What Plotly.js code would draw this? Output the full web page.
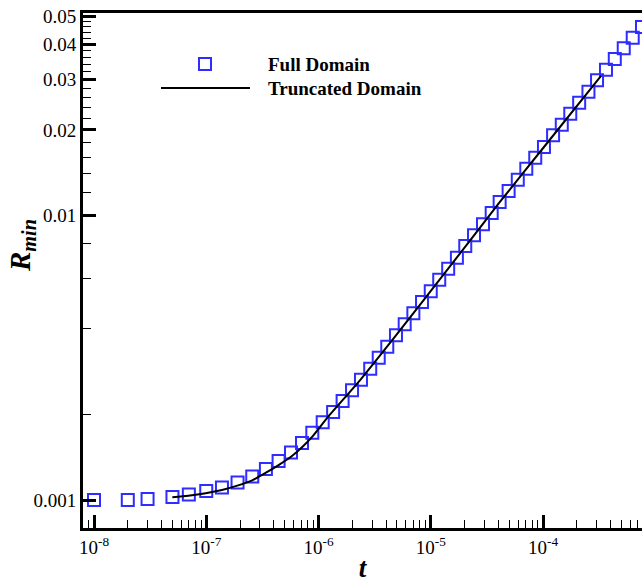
<!DOCTYPE html>
<html>
<head>
<meta charset="utf-8">
<script src="https://cdn.plot.ly/plotly-3.0.1.min.js"></script>
<style>html,body{margin:0;padding:0;background:#fff;}#chart{width:642px;height:583px;}</style>
</head>
<body>
<div id="chart"></div>
<script>
// Full Domain (squares)
const tFull = [1.0e-8, 2.0e-8, 3.0e-8, 5.0e-8, 7.0e-8, 1.0e-7, 1.38e-7, 1.90e-7, 2.57e-7, 3.40e-7,
  4.41e-7, 5.69e-7, 7.13e-7, 8.81e-7, 1.09e-6, 1.35e-6, 1.64e-6, 1.99e-6, 2.39e-6, 2.89e-6,
  3.44e-6, 4.10e-6, 4.90e-6, 5.86e-6, 7.00e-6, 8.36e-6, 1.00e-5, 1.19e-5, 1.43e-5, 1.71e-5,
  2.03e-5, 2.43e-5, 2.92e-5, 3.49e-5, 4.11e-5, 4.94e-5, 5.96e-5, 7.10e-5, 8.53e-5, 1.02e-4,
  1.23e-4, 1.47e-4, 1.75e-4, 2.10e-4, 2.54e-4, 3.03e-4, 3.64e-4, 4.36e-4, 5.24e-4, 6.30e-4, 7.62e-4];
const RFull = [1.000e-3, 1.000e-3, 1.008e-3, 1.024e-3, 1.045e-3, 1.076e-3, 1.106e-3, 1.152e-3, 1.209e-3, 1.285e-3,
  1.371e-3, 1.469e-3, 1.586e-3, 1.725e-3, 1.876e-3, 2.039e-3, 2.228e-3, 2.430e-3, 2.647e-3, 2.894e-3,
  3.164e-3, 3.458e-3, 3.793e-3, 4.146e-3, 4.532e-3, 4.966e-3, 5.415e-3, 5.947e-3, 6.502e-3, 7.107e-3,
  7.813e-3, 8.518e-3, 9.314e-3, 1.020e-2, 1.116e-2, 1.220e-2, 1.336e-2, 1.460e-2, 1.597e-2, 1.741e-2,
  1.914e-2, 2.086e-2, 2.280e-2, 2.492e-2, 2.724e-2, 2.987e-2, 3.254e-2, 3.549e-2, 3.870e-2, 4.217e-2, 4.598e-2];

// Truncated Domain (line)
const tTrunc = [4.99e-8, 6.92e-8, 9.89e-8, 1.38e-7, 1.89e-7, 2.57e-7, 3.40e-7, 4.41e-7, 5.69e-7, 7.13e-7,
  8.81e-7, 1.22e-6, 2.39e-6, 4.90e-6, 1.43e-5, 4.13e-5, 1.02e-4, 3.29e-4];
const RTrunc = [1.022e-3, 1.035e-3, 1.056e-3, 1.084e-3, 1.123e-3, 1.173e-3, 1.247e-3, 1.327e-3, 1.419e-3, 1.532e-3,
  1.670e-3, 1.963e-3, 2.662e-3, 3.79e-3, 6.50e-3, 1.116e-2, 1.741e-2, 3.093e-2];

// Axis ticks
const xMajorVals = [1e-8, 1e-7, 1e-6, 1e-5, 1e-4];
const xMajorText = ['10<sup>-8</sup>', '10<sup>-7</sup>', '10<sup>-6</sup>', '10<sup>-5</sup>', '10<sup>-4</sup>'];
const xMinorVals = [9e-9,
  2e-8, 3e-8, 4e-8, 5e-8, 6e-8, 7e-8, 8e-8, 9e-8,
  2e-7, 3e-7, 4e-7, 5e-7, 6e-7, 7e-7, 8e-7, 9e-7,
  2e-6, 3e-6, 4e-6, 5e-6, 6e-6, 7e-6, 8e-6, 9e-6,
  2e-5, 3e-5, 4e-5, 5e-5, 6e-5, 7e-5, 8e-5, 9e-5,
  2e-4, 3e-4, 4e-4, 5e-4, 6e-4, 7e-4];
const yMajorVals = [0.001, 0.01, 0.02, 0.03, 0.04, 0.05];
const yMajorText = ['0.001', '0.01', '0.02', '0.03', '0.04', '0.05'];
const yMinorVals = [0.002, 0.004, 0.006, 0.008, 0.012, 0.014, 0.016, 0.018,
  0.022, 0.024, 0.026, 0.028, 0.032, 0.034, 0.036, 0.038, 0.042, 0.044, 0.046, 0.048];

const seriesNames = ['Full Domain', 'Truncated Domain'];

const FONT = 'Liberation Serif, Times New Roman, serif';
const BLUE = 'rgb(45,45,255)';

const traces = [
  {
    x: tFull, y: RFull, type: 'scatter', mode: 'markers', name: seriesNames[0],
    marker: {symbol: 'square-open', size: 12, color: BLUE, line: {width: 2, color: BLUE}},
    showlegend: false, cliponaxis: true
  },
  {
    x: tTrunc, y: RTrunc, type: 'scatter', mode: 'lines', name: seriesNames[1],
    line: {color: '#000', width: 2, shape: 'spline', smoothing: 0.6},
    showlegend: false
  }
];

const L = 83, R = 642, T = 13, B = 528;
const px = v => (v - L) / (R - L);
const py = v => (B - v) / (B - T);

const layout = {
  width: 642, height: 583,
  margin: {l: L, r: 642 - R, t: T, b: 583 - B},
  paper_bgcolor: '#fff', plot_bgcolor: '#fff',
  font: {family: FONT, color: '#000', size: 19},
  showlegend: false,
  xaxis: {
    type: 'log', range: [-8.098, -3.118],
    showgrid: false, zeroline: false,
    showline: true, linecolor: '#000', linewidth: 3, mirror: true,
    ticks: 'inside', ticklen: 13, tickwidth: 3, tickcolor: '#000',
    tickmode: 'array', tickvals: xMajorVals, ticktext: xMajorText,
    tickfont: {family: FONT, size: 19, color: '#000'},
    minor: {tickmode: 'array', tickvals: xMinorVals, ticks: 'inside', ticklen: 8, tickwidth: 1, tickcolor: '#000', showgrid: false},
    title: {text: '<b><i>t</i></b>', font: {family: FONT, size: 27, color: '#000'}, standoff: 5}
  },
  yaxis: {
    type: 'log', range: [-3.0984, -1.2882],
    showgrid: false, zeroline: false,
    showline: true, linecolor: '#000', linewidth: 3, mirror: false,
    ticks: 'inside', ticklen: 13, tickwidth: 3, tickcolor: '#000',
    tickmode: 'array', tickvals: yMajorVals, ticktext: yMajorText,
    tickfont: {family: FONT, size: 19, color: '#000'},
    minor: {tickmode: 'array', tickvals: yMinorVals, ticks: 'inside', ticklen: 8, tickwidth: 1, tickcolor: '#000', showgrid: false}
  },
  shapes: [
    {type: 'rect', xref: 'paper', yref: 'paper',
     x0: px(205) - 6 / (R - L), x1: px(205) + 6 / (R - L),
     y0: py(64) - 6 / (B - T), y1: py(64) + 6 / (B - T),
     line: {color: BLUE, width: 2}, fillcolor: 'rgba(0,0,0,0)'},
    {type: 'line', xref: 'paper', yref: 'paper',
     x0: px(161), x1: px(250), y0: py(88), y1: py(88),
     line: {color: '#000', width: 2}}
  ],
  annotations: [
    {xref: 'paper', yref: 'paper', x: px(266), y: py(64), xanchor: 'left', yanchor: 'middle',
     text: '<b>' + seriesNames[0] + '</b>', showarrow: false, font: {family: FONT, size: 19, color: '#000'}},
    {xref: 'paper', yref: 'paper', x: px(266), y: py(88), xanchor: 'left', yanchor: 'middle',
     text: '<b>' + seriesNames[1] + '</b>', showarrow: false, font: {family: FONT, size: 19, color: '#000'}},
    {xref: 'paper', yref: 'paper', x: px(22), y: py(246), xanchor: 'center', yanchor: 'middle',
     textangle: -90, showarrow: false,
     text: '<b><i>R</i></b><sub><b><i>min</i></b></sub>', font: {family: FONT, size: 29, color: '#000'}}
  ]
};

Plotly.newPlot('chart', traces, layout, {displayModeBar: false, staticPlot: true});
</script>
</body>
</html>
